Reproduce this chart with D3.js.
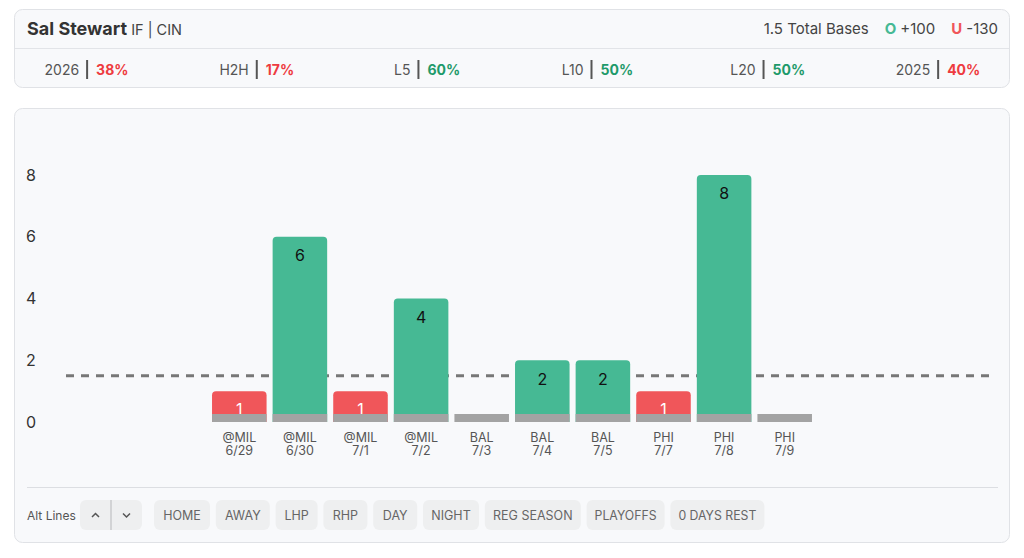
<!DOCTYPE html>
<html lang="en">
<head>
<meta charset="UTF-8">
<title>Sal Stewart - Total Bases</title>
<script src="https://d3js.org/d3.v7.min.js"></script>
<style>
  body { margin: 0; background: #fff; font-family: Inter, "Noto Sans", sans-serif; }
  svg { display: block; }
</style>
</head>
<body>
<div id="chart"></div>
<script>
// ---- data ----
var player = 'Sal Stewart';
var playerInfo = 'IF | CIN';
var propLabel = '1.5 Total Bases';
var overOdds = '+100', underOdds = '-130';
var line = 1.5;

var statLabels = ['2026', 'H2H', 'L5', 'L10', 'L20', '2025'];
var statPcts   = [38, 17, 60, 50, 50, 40];

var opponents = ['@MIL', '@MIL', '@MIL', '@MIL', 'BAL', 'BAL', 'BAL', 'PHI', 'PHI', 'PHI'];
var dates     = ['6/29', '6/30', '7/1', '7/2', '7/3', '7/4', '7/5', '7/7', '7/8', '7/9'];
var values    = [1, 6, 1, 4, 0, 2, 2, 1, 8, 0];
var yTicks    = [0, 2, 4, 6, 8];

var filters = ['HOME', 'AWAY', 'LHP', 'RHP', 'DAY', 'NIGHT', 'REG SEASON', 'PLAYOFFS', '0 DAYS REST'];
var filterWidths = [56, 54, 42, 44, 44, 56, 96, 78, 94]; // button sizes

var games = values.map(function(v, i){
    return {id: i, opp: opponents[i], date: dates[i], value: v};
});

var green = '#46b994', red = '#f0565a', grey = '#a3a3a3';

var w = 1024, h = 558;
var svg = d3.select('#chart').append('svg').attr('width', w).attr('height', h);

// ---- header card ----
svg.append('rect').attr('x', 14.5).attr('y', 9.5).attr('width', 995).attr('height', 78)
   .attr('rx', 8).attr('fill', '#f8f9fb').attr('stroke', '#e0e2e6');
svg.append('line').attr('x1', 15).attr('x2', 1009).attr('y1', 48.5).attr('y2', 48.5)
   .attr('stroke', '#e2e4e8');

var title = svg.append('text').attr('x', 27).attr('y', 35).attr('fill', '#333');
title.append('tspan').text(player).attr('font-size', 18).attr('font-weight', 700);
title.append('tspan').text(' ' + playerInfo).attr('font-size', 14.5).attr('fill', '#444');

var prop = svg.append('text').attr('x', 998).attr('y', 34).attr('text-anchor', 'end')
   .attr('font-size', 15).attr('fill', '#444');
prop.append('tspan').text(propLabel);
prop.append('tspan').attr('dx', 16).text('O').attr('fill', green).attr('font-weight', 700);
prop.append('tspan').attr('dx', 4).text(overOdds);
prop.append('tspan').attr('dx', 16).text('U').attr('fill', red).attr('font-weight', 700);
prop.append('tspan').attr('dx', 4).text(underOdds);

// stats row, each item centered in its own cell
statLabels.forEach(function(lbl, i){
    var cx = 86.5 + i * 170.3;
    var g = svg.append('g');
    var t1 = g.append('text').attr('x', 0).attr('y', 74.5).attr('font-size', 14)
              .attr('fill', '#555').text(lbl);
    var w1 = t1.node().getComputedTextLength();
    g.append('line').attr('x1', w1 + 8).attr('x2', w1 + 8).attr('y1', 60).attr('y2', 79)
     .attr('stroke', '#555').attr('stroke-width', 2);
    var t2 = g.append('text').attr('x', w1 + 17).attr('y', 74.5).attr('font-size', 14)
              .attr('font-weight', 700).attr('fill', statPcts[i] >= 50 ? '#1f9a6a' : '#ee3b3f')
              .text(statPcts[i] + '%');
    var total = w1 + 17 + t2.node().getComputedTextLength();
    g.attr('transform', 'translate(' + (cx - total / 2) + ',0)');
});

// ---- chart card ----
svg.append('rect').attr('x', 14.5).attr('y', 108.5).attr('width', 995).attr('height', 434)
   .attr('rx', 8).attr('fill', '#f8f9fb').attr('stroke', '#e0e2e6');

var xScale = d3.scaleBand().domain(games.map(function(d){ return d.id; }))
               .range([209, 815]).paddingInner(0.1).paddingOuter(0.05);
var yScale = d3.scaleLinear().domain([0, 8]).range([422, 175]);

var yAxis = d3.axisLeft(yScale).tickValues(yTicks).tickSize(0).tickPadding(0);
var yG = svg.append('g').attr('transform', 'translate(26,0)').call(yAxis);
yG.select('.domain').remove();
yG.selectAll('text').attr('text-anchor', 'start').attr('font-size', 16)
  .attr('font-family', 'Inter, sans-serif').attr('fill', '#333');

// line (behind the bars)
svg.append('line').attr('x1', 66).attr('x2', 992)
   .attr('y1', yScale(line)).attr('y2', yScale(line))
   .attr('stroke', '#777').attr('stroke-width', 3).attr('stroke-dasharray', '8,7');

function topRounded(x, y, bw, bh, r){
    r = Math.min(r, bh);
    return 'M' + x + ',' + (y + bh) + 'V' + (y + r) + 'Q' + x + ',' + y + ' ' + (x + r) + ',' + y +
           'H' + (x + bw - r) + 'Q' + (x + bw) + ',' + y + ' ' + (x + bw) + ',' + (y + r) +
           'V' + (y + bh) + 'Z';
}

var bars = games.filter(function(d){ return d.value > 0; });

svg.append('g').selectAll('path').data(bars).enter().append('path')
   .attr('d', function(d){
       return topRounded(xScale(d.id), yScale(d.value), xScale.bandwidth(),
                         yScale(0) - yScale(d.value), 4);
   })
   .attr('fill', function(d){ return d.value > line ? green : red; });

svg.append('g').selectAll('text').data(bars).enter().append('text')
   .attr('x', function(d){ return xScale(d.id) + xScale.bandwidth() / 2; })
   .attr('y', function(d){ return yScale(d.value) + 20; })
   .attr('text-anchor', 'middle').attr('dominant-baseline', 'middle')
   .attr('font-size', 16)
   .attr('fill', function(d){ return d.value > line ? '#111' : '#fff'; })
   .text(function(d){ return d.value; });

// grey base strip
svg.append('g').selectAll('rect').data(games).enter().append('rect')
   .attr('x', function(d){ return xScale(d.id); })
   .attr('y', yScale(0) - 8).attr('width', xScale.bandwidth()).attr('height', 8)
   .attr('fill', grey);

// x axis: opponent + date
var xAxis = d3.axisBottom(xScale).tickSize(0).tickPadding(0).tickFormat('');
var xG = svg.append('g').attr('transform', 'translate(0,' + yScale(0) + ')').call(xAxis);
xG.select('.domain').remove();
xG.selectAll('.tick text').remove();
xG.selectAll('.tick').append('text')
  .attr('text-anchor', 'middle').attr('font-size', 12.5).attr('fill', '#555')
  .attr('font-family', 'Inter, sans-serif')
  .each(function(id){
      var t = d3.select(this);
      t.append('tspan').attr('x', 0).attr('y', 19.5).text(games[id].opp);
      t.append('tspan').attr('x', 0).attr('y', 32.5).text(games[id].date);
  });

// ---- bottom controls ----
svg.append('line').attr('x1', 27).attr('x2', 998).attr('y1', 487.5).attr('y2', 487.5)
   .attr('stroke', '#dcdee2');
svg.append('text').attr('x', 27).attr('y', 519.5).attr('font-size', 12).attr('fill', '#555')
   .text('Alt Lines');

svg.append('rect').attr('x', 80).attr('y', 500).attr('width', 62).attr('height', 30)
   .attr('rx', 6).attr('fill', '#eeeff0');
svg.append('line').attr('x1', 111).attr('x2', 111).attr('y1', 500).attr('y2', 530)
   .attr('stroke', '#c9cacc').attr('stroke-width', 1.5);
svg.append('path').attr('d', 'M92,517 L95.5,513.5 L99,517')
   .attr('fill', 'none').attr('stroke', '#555').attr('stroke-width', 1.5);
svg.append('path').attr('d', 'M123,513.5 L126.5,517 L130,513.5')
   .attr('fill', 'none').attr('stroke', '#555').attr('stroke-width', 1.5);

var bx = 154;
filters.forEach(function(f, i){
    var bw = filterWidths[i];
    svg.append('rect').attr('x', bx).attr('y', 500).attr('width', bw).attr('height', 30)
       .attr('rx', 6).attr('fill', '#eeeff0');
    var t = svg.append('text').attr('x', bx + bw / 2).attr('y', 519.5).attr('font-size', 12.5)
       .attr('fill', '#666').attr('text-anchor', 'middle').text(f);
    // squeeze text a little if it doesn't fit
    if (t.node().getComputedTextLength() > bw - 16) {
        t.attr('textLength', bw - 16).attr('lengthAdjust', 'spacingAndGlyphs');
    }
    bx += bw + 5.8;
});
</script>
</body>
</html>
